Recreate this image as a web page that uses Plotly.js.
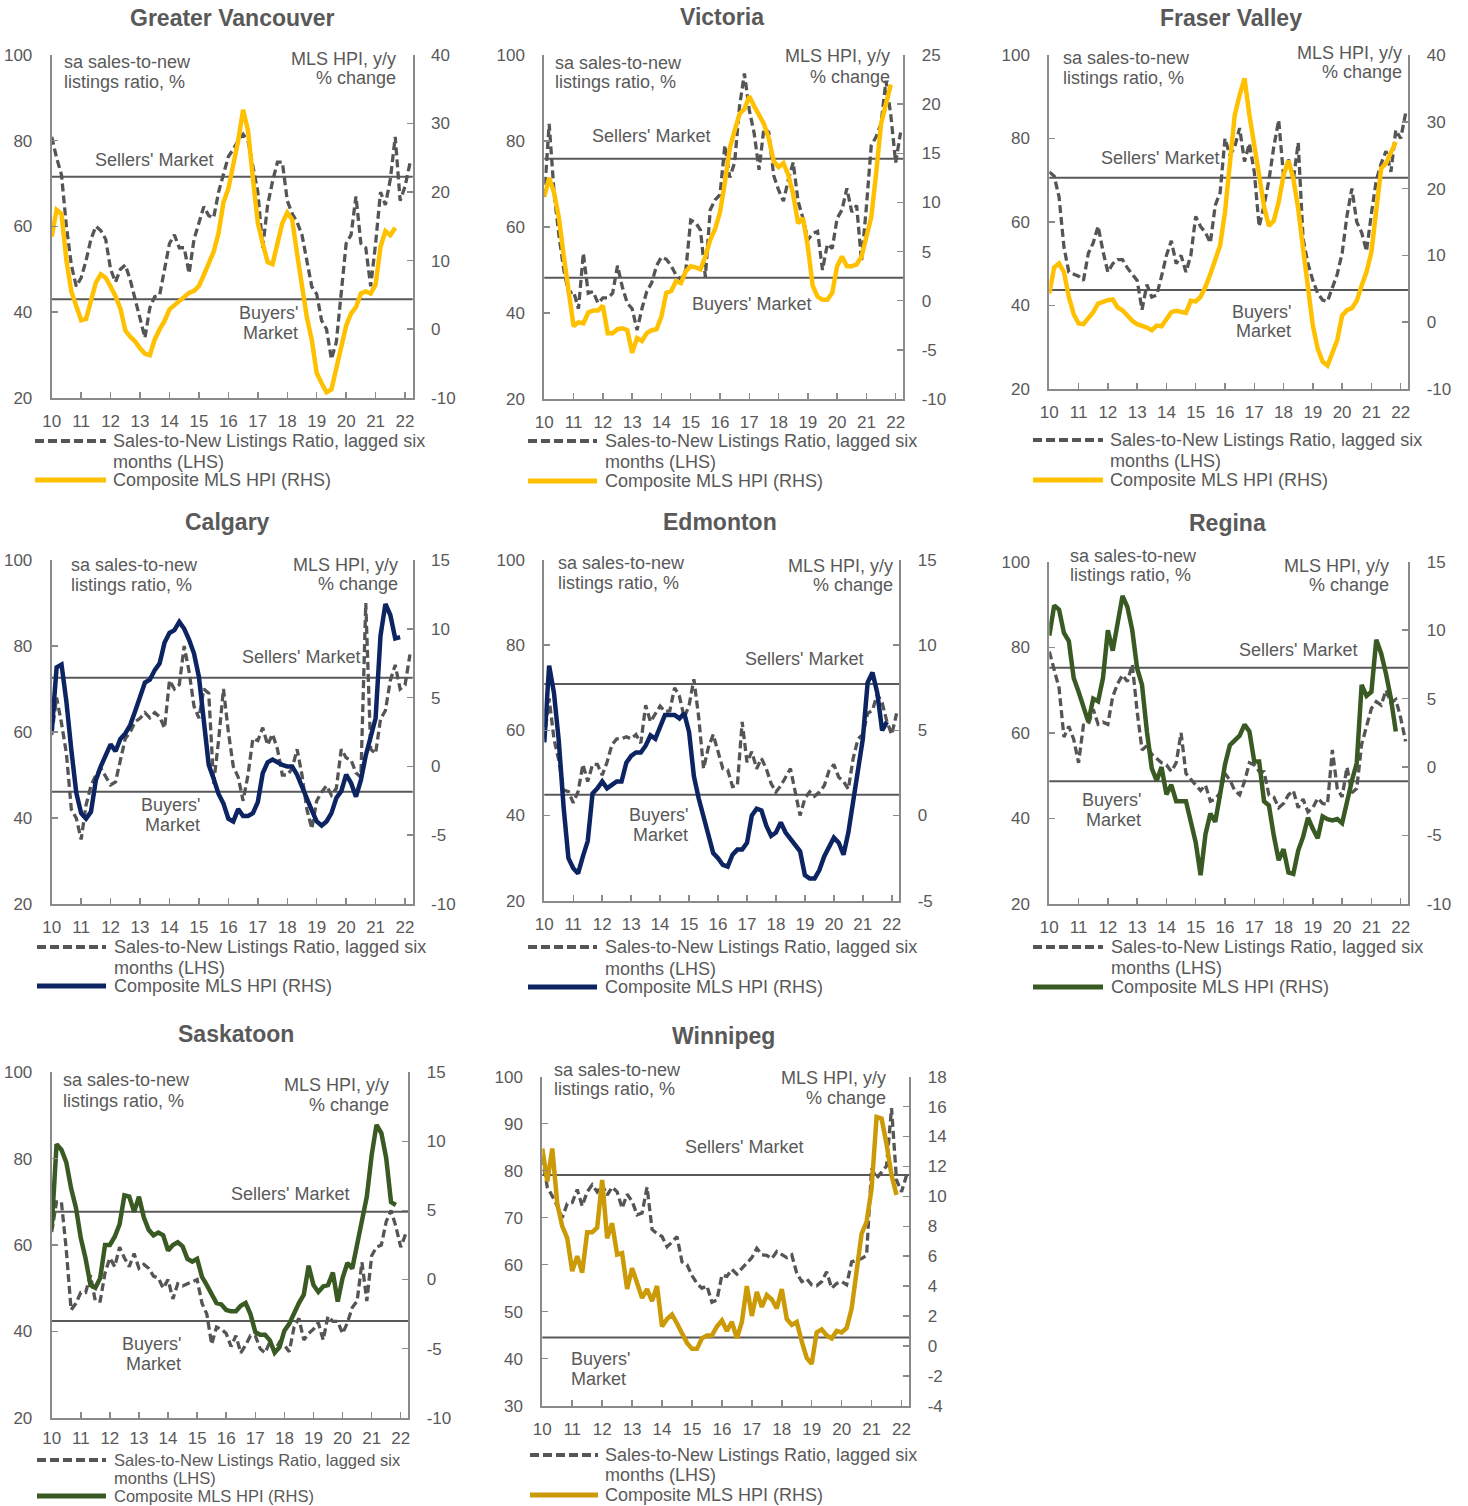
<!DOCTYPE html>
<html><head><meta charset="utf-8">
<script src="https://cdn.plot.ly/plotly-3.0.1.min.js"></script>
<style>html,body{margin:0;padding:0;background:#fff}#chart{width:1468px;height:1506px}</style>
</head><body><div id="chart"></div>
<script>
// ---------- DATA (bi-monthly readings, Jan 2010 onward; x = 10 + i/6) ----------
const yearTicks = [10,11,12,13,14,15,16,17,18,19,20,21,22];
const yearLabels = ['10','11','12','13','14','15','16','17','18','19','20','21','22'];

const vanRatio = [80.9,76,72,60,51,46,48,52,57,60,59,57,50,47,50,51,47.5,43,39,34,41,43.6,44,50,56,58,55,55,49,57,61,64.6,62.5,62,68,72,76.3,78,80,81.5,80,74,68,55,65,70.5,75,75,66,63,61,58,52,45.9,44.2,38,36,29,33,45,56,58,67,56,55,46,56,68,65,71,80.9,66,69.3,74.7];
const vanHpi = [13.5,17.4,16.8,10,5.5,3.5,1.3,1.5,4.2,6.8,8.0,7.5,6.2,4.8,3.0,-0.2,-1.1,-1.8,-2.8,-3.6,-3.8,-1.5,0,1.2,2.9,3.5,4.1,4.8,5.3,5.6,6.3,7.9,9.6,11.3,14,18.5,20.5,24,27.5,32,29,22,15.5,12.5,9.8,9.5,12.5,15.5,17,16,11,6.7,1.7,-1.6,-6.4,-7.9,-9.2,-8.8,-5.5,-2.5,0.5,2.3,3.2,5.2,5.5,5.2,6.5,12,14.3,13.7,14.8];
const vanLevels = [71.6, 43.0];

const vicRatio = [67,84,68,58,50,44.6,45,41,53.9,44.6,45,42.3,43.5,43.5,44.6,51,46,42.3,41,36,41,45,47,51,53,52.5,51,48.8,47.8,50,61.6,61,59.3,48.4,64,66.3,67.5,79,71.5,75,88,95.7,87.2,81.8,73.3,83,82,72,68.6,66,71,75,66,62,57,58.5,59,50,56,55,62,64,69,63.5,65,52,64.7,79,81,84,94,86,75,82];
const vicHpi = [10.6,12.5,11.0,8.4,4.5,0.5,-2.6,-2.2,-2.3,-1.2,-1.0,-1.0,-0.5,-3.3,-3.3,-2.9,-2.8,-3.0,-5.3,-3.8,-4.1,-3.3,-3.0,-2.9,-1.6,0.8,1.0,2.0,1.8,3.0,3.5,3.4,3.2,4.5,6.2,7.3,9.0,12,15.5,17.3,19,19.5,20.8,19.8,19,18,16.5,14.2,13.6,14,12.8,10.8,7.9,8.4,5.5,1.5,0.4,0.1,0.1,0.8,3.5,4.5,3.5,3.5,3.7,4.5,6.5,8.5,13,18,20,22];
const vicLevels = [75.9, 48.2];

const fvRatio = [72,71,66,54,48,47.5,47,46,52.5,55,59,53,48,50,51,51,49,47.5,46,39,45,42,42.5,47,52,55.5,50,52,48,52,61.3,58.9,57.5,55,64,67,80,76,78,82.5,74.5,78.8,72,58.9,64,70,78,84.4,71,75,70,79,56,50,46,42.9,41.3,41,44.3,47.5,52.5,61.5,68,60,57.5,53,62,70,74,77,72,82,80,86];
const fvHpi = [4.3,8.2,8.8,7.5,3.8,1.2,-0.2,-0.3,0.6,1.5,2.8,3.1,3.3,3.4,2.2,1.8,1.0,0.2,-0.3,-0.5,-0.8,-1.2,-0.5,-0.6,0.5,1.5,1.7,1.6,1.4,3.2,3.1,3.8,5.3,7.2,9.2,11.5,16.5,23,31,34,36.5,31,26,22,17.3,14.4,15.2,18,22,24.2,21.5,17,11,5.5,-0.5,-4,-5.9,-6.5,-4.4,-2.7,1.0,1.8,2.1,3.2,5.5,7.5,10.5,17.5,23,23.8,25.5,27];
const fvLevels = [70.6, 43.7];

const calRatio = [59.3,68,62,55,42,40,35,43,47.5,50,51.6,49.5,47.7,48.4,53.5,58.5,60,62.4,63.2,64.5,63.3,64.5,63.5,60.9,72,70,71,80,74,66,63.2,70,69,48,58,70,60,52,49.5,44,50,58.5,58,61,57,59.5,56,50,50,51.5,56,50,42,37.5,44,46,47.5,45.3,46.9,56,54,53.5,50.5,49.5,90,56,55,63,65,72,75.6,70,70.9,78];
const calHpi = [2.5,7.2,7.4,4.7,1.2,-1.9,-3.4,-3.8,-3.3,-1.0,0,0.9,1.6,1.1,2.0,2.4,3.0,4.0,5.0,6.1,6.3,7.0,7.5,9.0,9.7,9.9,10.5,10.0,9.2,8.2,6.5,3.6,0.1,-0.9,-2.0,-2.7,-3.8,-4.0,-3.1,-3.6,-3.6,-3.4,-2.6,-0.5,0.3,0.5,0.3,0.1,0,0,-0.6,-1.5,-2.5,-3.2,-4.0,-4.3,-4.0,-3.4,-2.3,-1.8,-0.6,-1.2,-2.2,-1.0,0.8,2.2,3.5,9.5,11.8,11,9.3,9.4];
const calLevels = [72.6, 46.1];

const edmRatio = [58,67.5,58,53,46,45.6,43,45.6,52,48,52,52,49.5,52.5,56.6,58,58,58.5,58,59,57,65.9,62,64,65.7,64.4,64.6,70,68,63,65.9,72,63,51,56,59,55,51,50.7,46.8,47,62,52.5,55,51,53.4,51,47.5,45.5,47,49,51,45.5,40,44,45.6,44.5,45.5,47,50.5,52,49,48,46.2,53.4,58,59,64,64.7,68.5,66.5,62,59,64];
const edmHpi = [4.3,8.8,7.2,4.4,0.5,-2.5,-3.1,-3.4,-2.4,-1.5,1.3,1.6,2.0,1.6,1.8,2.0,2.0,3.1,3.5,3.7,3.7,4.1,4.7,4.5,5.2,5.9,5.9,5.9,5.7,6.0,4.9,2.3,1.0,-0.1,-1.0,-2.2,-2.5,-2.9,-3.0,-2.3,-2.0,-2.0,-1.6,0,0.4,0.3,-0.6,-1.2,-1.0,-0.4,-1.0,-1.4,-1.8,-2.1,-3.5,-3.7,-3.7,-3.2,-2.4,-1.8,-1.3,-1.6,-2.3,-1.0,0.8,2.6,4.5,7.8,8.4,7.2,5.0,5.5];
const edmLevels = [70.9, 44.9];

const regRatio = [79,74.5,70.5,59,61.5,58.5,53,61.8,62,65.5,62,62.5,62,68.5,71.5,73.5,72,76,65,56,57,55,54,53,52.5,51,53,60,50.5,49,47.8,46.5,47.8,44,44.5,46,50.5,49,46.5,45.5,48.6,53,52.5,51,50.9,45.5,45,42.5,43.5,45.5,46.5,42.5,44.5,41.5,42.5,44.7,43.5,43.3,56,47,45,52,46,47,57.3,61.5,65.7,67.3,66.5,70,67,67.8,63.5,58];
const regHpi = [9.6,11.8,11.5,9.8,9.2,6.5,5.5,4.3,3.3,5.0,4.8,6.5,10,8.5,10.5,12.5,11.7,10,7.2,6.0,2.6,-0.1,-1.0,0,-2.0,-1.3,-2.5,-2.5,-2.5,-4.0,-5.5,-7.9,-4.9,-3.4,-4.0,-2.0,0.2,1.6,2.0,2.3,3.1,2.6,0.4,0.4,-2.5,-2.8,-5.0,-6.8,-6.0,-7.7,-7.8,-6.1,-5.1,-3.7,-4.5,-5.2,-3.6,-3.8,-3.9,-3.8,-4.1,-2.5,-1.0,0.3,6.0,5.2,5.5,9.3,8.3,6.8,5.0,2.6];
const regLevels = [75.2, 48.7];

const sasRatio = [63,70,70,59,45,46.5,49,49,53,47,47,53.5,57,55,59.5,57,55,58,54.6,55.5,54.6,52.8,52.3,50,52,47.5,51,50.5,51,51.5,52,46.5,44,37,41,40.5,39.5,36.5,39,35,36.8,39,39,36,35,37.5,35.5,37.5,36.8,35.3,41,43,38,39.5,40.5,42,38,43.5,42.3,42.3,39.5,42,45.5,47,56,47,57.5,59.5,60,65.4,68,64.3,59.5,62.5];
const sasHpi = [3.7,9.8,9.4,8.5,6.6,5.2,3.0,1.5,-0.4,-0.6,0.1,2.5,2.5,3.1,4.0,6.1,6.0,4.9,6.0,4.5,3.6,3.2,3.4,3.2,2.1,2.5,2.7,2.4,1.5,1.3,1.5,0.2,-0.4,-1.0,-1.7,-1.8,-2.2,-2.3,-2.3,-1.9,-1.7,-2.5,-3.8,-4.0,-4.0,-4.4,-5.3,-4.9,-3.7,-3.2,-2.4,-1.7,-1.1,1.0,-0.4,-0.9,-0.5,-0.4,0.5,-1.6,0.1,1.2,0.8,2.5,4.2,6.0,9.0,11.2,10.6,8.8,5.6,5.4];
const sasLevels = [67.7, 42.4];

const winRatio = [83,76.5,74.6,72.5,70,73,73.2,76,72.5,75.5,77,75.5,77,74.8,76.5,75.5,72,75,73.5,70.6,71,76.5,67.5,66.6,66,63.8,64.8,66,60.6,60,57.7,56,55,55.5,52,52.5,57.8,57.5,59,58,59.2,60.3,61.5,63.5,62.1,62,61.3,62.8,62.1,61.5,62.1,58.2,56.4,57,55.7,55.5,56.4,58.5,55,56,56.4,55.7,60.6,61,61.3,62,80.5,78.4,79.8,81,93.3,78,75.5,79];
const winHpi = [13.2,11,13.2,9.5,8.0,7.2,5.0,6.0,4.9,7.6,7.6,7.9,11.1,7.2,8.2,6.1,6.2,3.8,5.2,4.2,3.2,3.8,3.0,4.0,1.3,1.8,2.1,1.5,0.9,0.2,-0.2,-0.2,0.5,0.7,0.7,1.3,1.7,1.0,1.6,0.5,1.6,4.0,2.0,3.6,2.6,3.4,3.1,2.5,3.8,1.8,1.4,1.6,0.3,-0.8,-1.2,0.9,1.1,0.7,0.5,1.0,0.9,1.2,2.5,5.2,7.5,8.3,10.5,15.3,15.2,13.5,11.4,10.1];
const winLevels = [79.1, 44.5];

const ratioName = 'Sales-to-New Listings Ratio, lagged six months (LHS)';
const hpiName = 'Composite MLS HPI (RHS)';

// ---------- STYLE ----------
const W = 1468, H = 1506;
const FONT = '"Liberation Sans", Arial, sans-serif';
const TXT = '#595959';
const AXC = '#8a8a8a';
const DASHC = '#555555';
const GOLD = '#FFC000', NAVY = '#0C2461', GREEN = '#3A5A23', WGOLD = '#CC9A06';

const panels = [
 {title:'Greater Vancouver', ratio:vanRatio, hpi:vanHpi, levels:vanLevels, color:GOLD,
  lRange:[20,100], lDtick:20, rRange:[-10,40], rDtick:10,
  box:[51.7,412.7,55,397.7], t:[232,18], lt:[62,62,82], rt:[398,59,78], sel:[154,160],
  buy:{x:300,y:[313,333],a:'right',lines:["Buyers'","Market"]}, leg:[35,106,111,441,462,480], lf:18, xs:7},
 {title:'Victoria', ratio:vicRatio, hpi:vicHpi, levels:vicLevels, color:GOLD,
  lRange:[20,100], lDtick:20, rRange:[-10,25], rDtick:5,
  box:[544.3,903.3,55,399], t:[722,17], lt:[553,63,82], rt:[892,56,77], sel:[651,136],
  buy:{x:751,y:[304],a:'center',lines:["Buyers' Market"]}, leg:[528,597,603,441,462,481], lf:18, xs:7},
 {title:'Fraser Valley', ratio:fvRatio, hpi:fvHpi, levels:fvLevels, color:GOLD,
  lRange:[20,100], lDtick:20, rRange:[-10,40], rDtick:10,
  box:[1049.3,1408.3,55,389], t:[1231,18], lt:[1061,58,78], rt:[1404,53,72], sel:[1160,158],
  buy:{x:1293,y:[312,331],a:'right',lines:["Buyers'","Market"]}, leg:[1033,1103,1108,440,461,480], lf:18, xs:7},
 {title:'Calgary', ratio:calRatio, hpi:calHpi, levels:calLevels, color:NAVY,
  lRange:[20,100], lDtick:20, rRange:[-10,15], rDtick:5,
  box:[51.7,412.7,560,904], t:[228,522], lt:[69,565,585], rt:[400,565,584], sel:[301,657],
  buy:{x:202,y:[805,825],a:'right',lines:["Buyers'","Market"]}, leg:[37,106,112,947,968,986], lf:18, xs:7},
 {title:'Edmonton', ratio:edmRatio, hpi:edmHpi, levels:edmLevels, color:NAVY,
  lRange:[20,100], lDtick:20, rRange:[-5,15], rDtick:5,
  box:[544.3,899.3,560,900.7], t:[720,522], lt:[556,563,583], rt:[895,566,585], sel:[804,659],
  buy:{x:690,y:[815,835],a:'right',lines:["Buyers'","Market"]}, leg:[528,597,603,947,969,987], lf:18, xs:7},
 {title:'Regina', ratio:regRatio, hpi:regHpi, levels:regLevels, color:GREEN,
  lRange:[20,100], lDtick:20, rRange:[-10,15], rDtick:5,
  box:[1049.3,1408.3,561.7,904], t:[1227,523], lt:[1068,556,575], rt:[1391,566,585], sel:[1298,650],
  buy:{x:1143,y:[800,820],a:'right',lines:["Buyers'","Market"]}, leg:[1033,1103,1109,947,968,987], lf:18, xs:7},
 {title:'Saskatoon', ratio:sasRatio, hpi:sasHpi, levels:sasLevels, color:GREEN,
  lRange:[20,100], lDtick:20, rRange:[-10,15], rDtick:5,
  box:[51.7,408.3,1072.3,1417.7], t:[236,1034], lt:[61,1080,1101], rt:[391,1085,1105], sel:[290,1194],
  buy:{x:183,y:[1344,1364],a:'right',lines:["Buyers'","Market"]}, leg:[37,106,112,1460,1478,1496], lf:16.5, xs:4},
 {title:'Winnipeg', ratio:winRatio, hpi:winHpi, levels:winLevels, color:WGOLD,
  lRange:[30,100], lDtick:10, rRange:[-4,18], rDtick:2,
  box:[542.3,909.3,1076.7,1405.7], t:[723,1036], lt:[552,1070,1089], rt:[888,1078,1098], sel:[744,1147],
  buy:{x:569,y:[1359,1379],a:'left',lines:["Buyers'","Market"]}, leg:[530,598,603,1455,1475,1495], lf:18, xs:7}
];

function xs(n){ const a=[]; for(let i=0;i<n;i++) a.push(10 + i/6); return a; }
function tickList(r, d){ const v=[]; for(let t=r[0]; t<=r[1]+1e-9; t+=d) v.push(Math.round(t*100)/100); return v; }
const PX = x => x/W, PY = y => 1 - y/H;

const traces = [], shapes = [], annotations = [];
const layout = {
  width:W, height:H, autosize:false,
  margin:{l:0,r:0,t:0,b:0,pad:0},
  paper_bgcolor:'#ffffff', plot_bgcolor:'rgba(0,0,0,0)',
  showlegend:false, hovermode:false,
  font:{family:FONT, color:TXT, size:17}
};

function txt(text, x, y, xanchor, size){
  annotations.push({text:text, xref:'paper', yref:'paper', x:PX(x), y:PY(y),
    xanchor:xanchor, yanchor:'middle', showarrow:false,
    font:{family:FONT, size:size||18, color:TXT}});
}

const tickFont = {family:FONT, size:17, color:TXT};

panels.forEach((p, i) => {
  const n = i+1;
  const xa = n===1 ? 'x' : 'x'+n;
  const ylN = 2*n-1, yrN = 2*n;
  const ylId = ylN===1 ? 'y' : 'y'+ylN, yrId = 'y'+yrN;
  const xKey = n===1 ? 'xaxis' : 'xaxis'+n;
  const ylKey = ylN===1 ? 'yaxis' : 'yaxis'+ylN, yrKey = 'yaxis'+yrN;
  const [bx0,bx1,by0,by1] = p.box;
  const lTicks = tickList(p.lRange, p.lDtick), rTicks = tickList(p.rRange, p.rDtick);

  layout[xKey] = {domain:[PX(bx0), PX(bx1)], anchor:ylId, range:[10,22.26],
    tickmode:'array', tickvals:yearTicks, ticktext:yearLabels,
    ticks:'inside', ticklen:6, tickwidth:1.5, tickcolor:AXC,
    showline:true, linecolor:AXC, linewidth:2, showgrid:false, zeroline:false,
    tickfont:tickFont, ticklabelstandoff:p.xs, fixedrange:true};
  layout[ylKey] = {domain:[PY(by1), PY(by0)], anchor:xa, range:p.lRange,
    tickmode:'array', tickvals:lTicks, ticktext:lTicks.map(String),
    ticks:'inside', ticklen:6, tickwidth:1.5, tickcolor:AXC,
    showline:true, linecolor:AXC, linewidth:2, showgrid:false, zeroline:false,
    tickfont:tickFont, ticklabelstandoff:14, fixedrange:true};
  layout[yrKey] = {overlaying:ylId, anchor:xa, side:'right', range:p.rRange,
    tickmode:'array', tickvals:rTicks, ticktext:rTicks.map(String),
    ticks:'inside', ticklen:6, tickwidth:1.5, tickcolor:AXC,
    showline:true, linecolor:AXC, linewidth:2, showgrid:false, zeroline:false,
    tickfont:tickFont, ticklabelstandoff:13, fixedrange:true};

  traces.push({type:'scatter', mode:'lines', name:ratioName, x:xs(p.ratio.length), y:p.ratio,
    xaxis:xa, yaxis:ylId, line:{color:DASHC, width:3.3, dash:'8px,4px'}, showlegend:false});
  traces.push({type:'scatter', mode:'lines', name:hpiName, x:xs(p.hpi.length), y:p.hpi,
    xaxis:xa, yaxis:yrId, line:{color:p.color, width:4.5}, showlegend:false});

  p.levels.forEach(v => shapes.push({type:'line', xref:xa+' domain', x0:0, x1:1, yref:ylId, y0:v, y1:v,
    line:{color:'#595959', width:2}, layer:'below'}));

  txt('<b>'+p.title+'</b>', p.t[0], p.t[1], 'center', 23);
  txt('sa sales-to-new', p.lt[0], p.lt[1], 'left');
  txt('listings ratio, %', p.lt[0], p.lt[2], 'left');
  txt('MLS HPI, y/y', p.rt[0], p.rt[1], 'right');
  txt('% change', p.rt[0], p.rt[2], 'right');
  txt("Sellers' Market", p.sel[0], p.sel[1], 'center');
  p.buy.lines.forEach((s, k) => txt(s, p.buy.x, p.buy.y[k], p.buy.a));

  const [lx0, lx1, tx, ly1, ly2, ly3] = p.leg;
  shapes.push({type:'line', xref:'paper', yref:'paper', x0:PX(lx0), x1:PX(lx1), y0:PY(ly1), y1:PY(ly1),
    line:{color:DASHC, width:4, dash:'9px,4px'}});
  shapes.push({type:'line', xref:'paper', yref:'paper', x0:PX(lx0), x1:PX(lx1), y0:PY(ly3), y1:PY(ly3),
    line:{color:p.color, width:5}});
  txt('Sales-to-New Listings Ratio, lagged six', tx, ly1, 'left', p.lf);
  txt('months (LHS)', tx, ly2, 'left', p.lf);
  txt(hpiName, tx, ly3, 'left', p.lf);
});

layout.shapes = shapes;
layout.annotations = annotations;

Plotly.newPlot('chart', traces, layout, {staticPlot:true, displayModeBar:false});
</script>
</body></html>
